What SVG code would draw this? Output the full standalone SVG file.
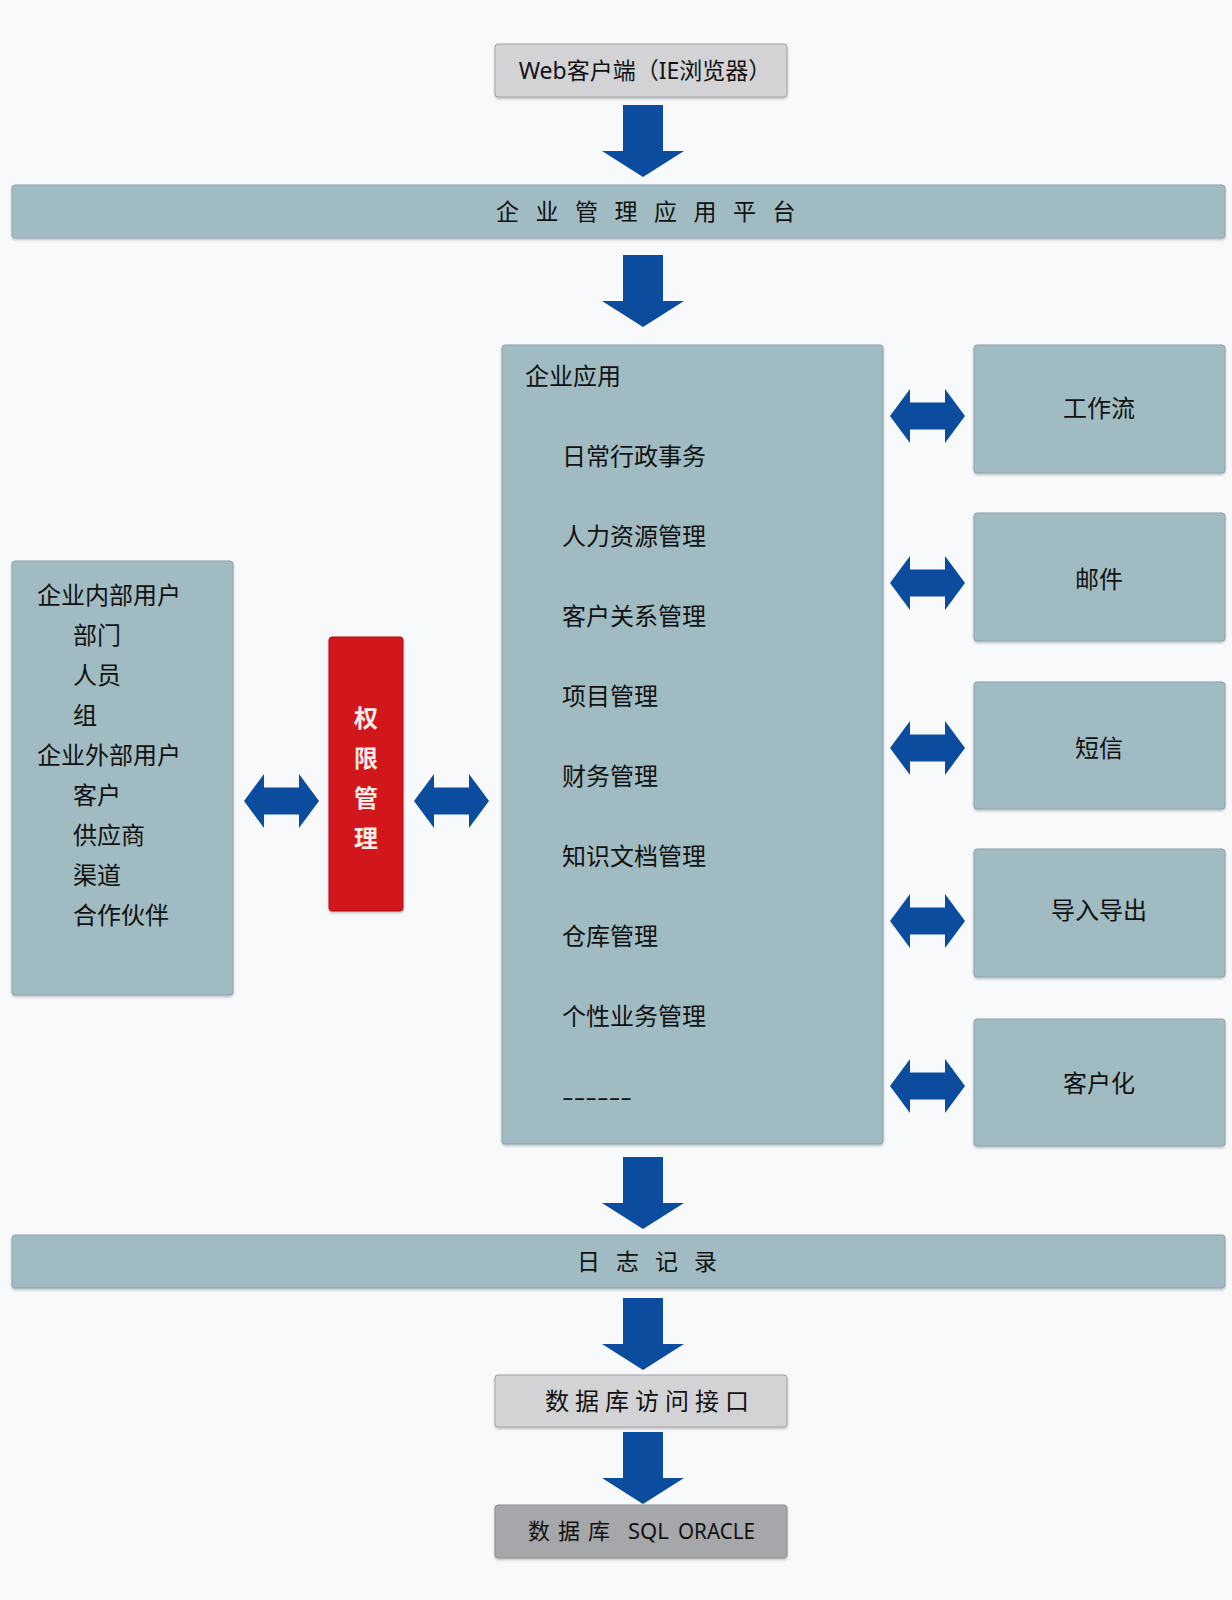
<svg xmlns="http://www.w3.org/2000/svg" width="1232" height="1600" viewBox="0 0 1232 1600">
<style>
  .bg{fill:#f7f9fb}
  .teal{fill:#a0bbc2;stroke:#8aa2a8;stroke-width:1}
  .gray{fill:#d3d3d5;stroke:#a2a2a6;stroke-width:1}
  .dark{fill:#a6a7aa;stroke:#8c8d90;stroke-width:1}
  .red{fill:#d1121a;stroke:#b80e14;stroke-width:1}
  .arrow{fill:#0b4c9f}
  text{font-family:"Noto Sans","Noto Sans CJK SC",sans-serif;fill:#111}
  .t24{font-size:24px}
  .t23{font-size:23px}
  .mid{text-anchor:middle}
  .wt{fill:#fbeee8;font-weight:bold;font-size:24px;text-anchor:middle}
</style>
<defs>
  <filter id="sh" x="-5%" y="-5%" width="110%" height="115%">
    <feDropShadow dx="0" dy="1.5" stdDeviation="1" flood-color="#000" flood-opacity="0.25"/>
  </filter>
  <path id="down" d="M-20,0 H20 V46 H41 L0,72 L-41,46 H-20 Z"/>
  <path id="dbl" d="M-37.5,0 L-17.5,-27 V-13.5 H17.5 V-27 L37.5,0 L17.5,27 V13.5 H-17.5 V27 Z"/>
</defs>
<rect class="bg" x="0" y="0" width="1232" height="1600"/>

<g id="web">
  <rect class="gray" x="495" y="44" width="292" height="53" rx="3" filter="url(#sh)"/>
  <text class="t23 mid" x="645" y="79">Web客户端（IE浏览器）</text>
</g>

<g id="platform">
  <rect class="teal" x="12" y="185" width="1213" height="53" rx="3" filter="url(#sh)"/>
  <text class="t23" x="496" y="220" letter-spacing="16.5">企业管理应用平台</text>
</g>

<g id="apps">
  <rect class="teal" x="502" y="345" width="381" height="799" rx="3" filter="url(#sh)"/>
  <text class="t24" x="525" y="385">企业应用</text>
  <text class="t24" x="562" y="465">日常行政事务</text>
  <text class="t24" x="562" y="545">人力资源管理</text>
  <text class="t24" x="562" y="625">客户关系管理</text>
  <text class="t24" x="562" y="705">项目管理</text>
  <text class="t24" x="562" y="785">财务管理</text>
  <text class="t24" x="562" y="865">知识文档管理</text>
  <text class="t24" x="562" y="945">仓库管理</text>
  <text class="t24" x="562" y="1025">个性业务管理</text>
  <text class="t24" x="562" y="1105" textLength="70" lengthAdjust="spacingAndGlyphs">------</text>
</g>

<g id="users">
  <rect class="teal" x="12" y="561" width="221" height="434" rx="3" filter="url(#sh)"/>
  <text class="t24" x="37" y="604">企业内部用户</text>
  <text class="t24" x="73" y="644">部门</text>
  <text class="t24" x="73" y="684">人员</text>
  <text class="t24" x="73" y="724">组</text>
  <text class="t24" x="37" y="764">企业外部用户</text>
  <text class="t24" x="73" y="804">客户</text>
  <text class="t24" x="73" y="844">供应商</text>
  <text class="t24" x="73" y="884">渠道</text>
  <text class="t24" x="73" y="924">合作伙伴</text>
</g>

<g id="auth">
  <rect class="red" x="329" y="637" width="74" height="274" rx="3" filter="url(#sh)"/>
  <text class="wt" x="366" y="727">权</text>
  <text class="wt" x="366" y="767">限</text>
  <text class="wt" x="366" y="807">管</text>
  <text class="wt" x="366" y="847">理</text>
</g>

<g id="workflow">
  <rect class="teal" x="974" y="345" width="251" height="128" rx="3" filter="url(#sh)"/>
  <text class="t24 mid" x="1099" y="417">工作流</text>
</g>
<g id="mail">
  <rect class="teal" x="974" y="513" width="251" height="128" rx="3" filter="url(#sh)"/>
  <text class="t24 mid" x="1099" y="588">邮件</text>
</g>
<g id="sms">
  <rect class="teal" x="974" y="682" width="251" height="127" rx="3" filter="url(#sh)"/>
  <text class="t24 mid" x="1099" y="757">短信</text>
</g>
<g id="importexport">
  <rect class="teal" x="974" y="849" width="251" height="128" rx="3" filter="url(#sh)"/>
  <text class="t24 mid" x="1099" y="919">导入导出</text>
</g>
<g id="customize">
  <rect class="teal" x="974" y="1019" width="251" height="127" rx="3" filter="url(#sh)"/>
  <text class="t24 mid" x="1099" y="1092">客户化</text>
</g>

<g id="log">
  <rect class="teal" x="12" y="1235" width="1213" height="53" rx="3" filter="url(#sh)"/>
  <text class="t23" x="577" y="1270" letter-spacing="16">日志记录</text>
</g>

<g id="dbaccess">
  <rect class="gray" x="495" y="1375" width="292" height="52" rx="3" filter="url(#sh)"/>
  <text class="t24" x="545" y="1410" letter-spacing="6">数据库访问接口</text>
</g>

<g id="db">
  <rect class="dark" x="495" y="1505" width="292" height="53" rx="3" filter="url(#sh)"/>
  <text font-size="22" y="1539"><tspan x="528">数</tspan><tspan x="558">据</tspan><tspan x="588">库</tspan><tspan x="628">SQL</tspan><tspan x="678" textLength="77" lengthAdjust="spacingAndGlyphs">ORACLE</tspan></text>
</g>

<g id="connectors" class="arrow">
  <use href="#down" x="643" y="105"/>
  <use href="#down" x="643" y="255"/>
  <use href="#down" x="643" y="1157"/>
  <use href="#down" x="643" y="1298"/>
  <use href="#down" x="643" y="1432"/>
  <use href="#dbl" x="281.5" y="801"/>
  <use href="#dbl" x="451.5" y="801"/>
  <use href="#dbl" x="927.5" y="416"/>
  <use href="#dbl" x="927.5" y="583"/>
  <use href="#dbl" x="927.5" y="748"/>
  <use href="#dbl" x="927.5" y="921"/>
  <use href="#dbl" x="927.5" y="1086"/>
</g>
</svg>
